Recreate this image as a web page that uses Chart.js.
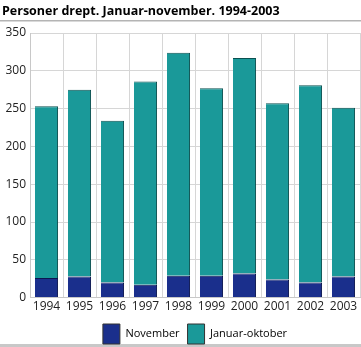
<!DOCTYPE html>
<html>
<head>
<meta charset="utf-8">
<script src="https://cdn.jsdelivr.net/npm/chart.js@4"></script>
<style>
html,body{margin:0;padding:0;background:#fff;}
#wrap{width:361px;height:347px;position:relative;}
</style>
</head>
<body>
<div id="wrap"><canvas id="c" width="361" height="347"></canvas></div>
<script>
const titleText = "Personer drept. Januar-november. 1994-2003";
const categories = ["1994","1995","1996","1997","1998","1999","2000","2001","2002","2003"];
const november = [26, 28, 20, 17, 29, 29, 32, 24, 20, 28];
const totals = [253, 275, 234, 286, 324, 277, 317, 257, 281, 251];
const januarOktober = totals.map((t, i) => t - november[i]);
const yTicks = [0, 50, 100, 150, 200, 250, 300, 350];

const FONT = "'Open Sans', 'DejaVu Sans', sans-serif";

const decor = {
  id: 'decor',
  beforeDraw(chart) {
    const ctx = chart.ctx;
    ctx.save();
    ctx.fillStyle = '#fff';
    ctx.fillRect(0, 0, chart.width, chart.height);
    ctx.fillStyle = '#000';
    ctx.font = "bold 12.5px " + FONT;
    ctx.textBaseline = 'alphabetic';
    ctx.textAlign = 'left';
    ctx.fillText(titleText, 2, 15);
    ctx.fillStyle = '#b4b4b4';
    ctx.fillRect(0, 20, chart.width, 1.5);
    ctx.fillStyle = '#c8c8c8';
    ctx.fillRect(0, 344, chart.width, 3);
    ctx.restore();
  }
};

new Chart(document.getElementById('c'), {
  type: 'bar',
  data: {
    labels: categories,
    datasets: [
      {
        label: 'November',
        data: november,
        backgroundColor: '#1a2f8c',
        borderColor: '#0b1650',
        borderWidth: {top: 1, right: 1, left: 0, bottom: 0},
        borderSkipped: false,
        barPercentage: 0.7,
        categoryPercentage: 1.0
      },
      {
        label: 'Januar-oktober',
        data: januarOktober,
        backgroundColor: '#1a9999',
        borderColor: '#0b5050',
        borderWidth: {top: 1, right: 1, left: 0, bottom: 0},
        borderSkipped: false,
        barPercentage: 0.7,
        categoryPercentage: 1.0
      }
    ]
  },
  options: {
    responsive: false,
    animation: false,
    devicePixelRatio: 1,
    layout: {padding: {top: 33, right: 1, left: 0, bottom: -7}},
    plugins: {
      title: {display: false},
      tooltip: {enabled: false},
      legend: {
        position: 'bottom',
        fullSize: false,
        labels: {
          boxWidth: 17,
          boxHeight: 20,
          padding: 8,
          color: '#222',
          font: {family: FONT, size: 11},
          generateLabels(chart) {
            return chart.data.datasets.map((ds, i) => ({
              text: ds.label,
              fillStyle: ds.backgroundColor,
              strokeStyle: '#333',
              lineWidth: 1,
              hidden: false,
              datasetIndex: i
            }));
          }
        }
      }
    },
    scales: {
      x: {
        stacked: true,
        grid: {color: '#d6d6d6', offset: true, drawTicks: false},
        border: {color: '#c8c8c8'},
        ticks: {color: '#222', font: {family: FONT, size: 12}, padding: 2, maxRotation: 0, autoSkip: false}
      },
      y: {
        stacked: true,
        min: 0,
        max: 350,
        afterBuildTicks(scale) { scale.ticks = yTicks.map(v => ({value: v})); },
        afterFit(scale) { scale.width = 30; },
        grid: {color: '#d6d6d6', drawTicks: false},
        border: {color: '#c8c8c8'},
        ticks: {color: '#222', font: {family: FONT, size: 12}, padding: 4}
      }
    }
  },
  plugins: [decor]
});
</script>
</body>
</html>
